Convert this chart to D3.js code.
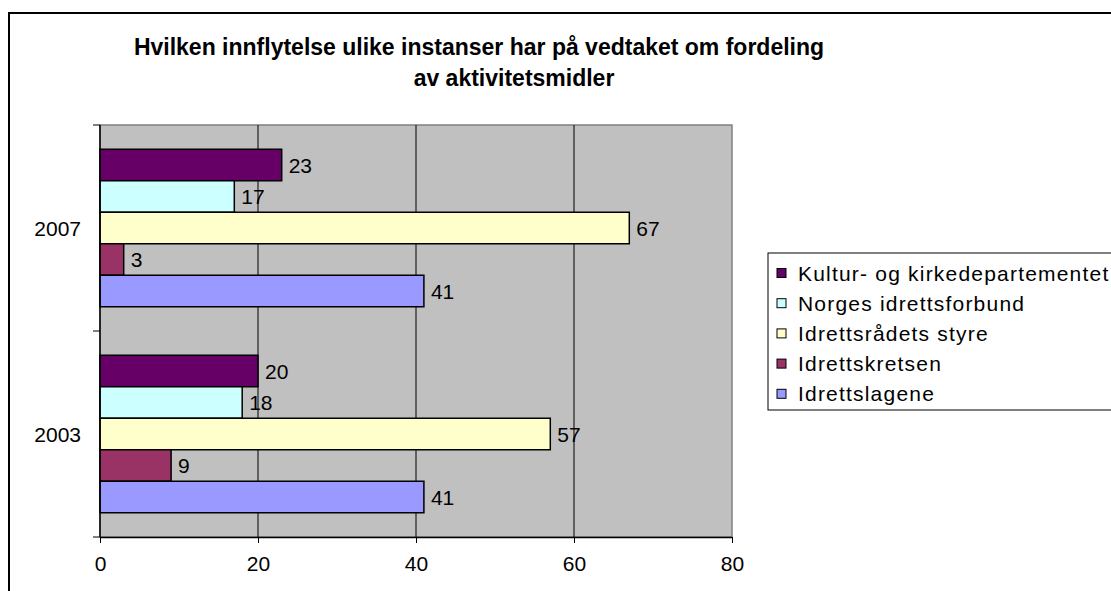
<!DOCTYPE html>
<html>
<head>
<meta charset="utf-8">
<script src="https://cdn.jsdelivr.net/npm/d3@7"></script>
<style>
	body { margin: 0; background: #fff; }
	text { font-family: Arial, "Liberation Sans", sans-serif; fill: #000; }
</style>
</head>
<body>
<div id="chart"></div>
<script>
	var years = ["2007", "2003"];
	var seriesNames = ["Kultur- og kirkedepartementet", "Norges idrettsforbund", "Idrettsrådets styre", "Idrettskretsen", "Idrettslagene"];
	var kultur = [23, 20];
	var norges = [17, 18];
	var styre = [67, 57];
	var kretsen = [3, 9];
	var lagene = [41, 41];
	var xTicks = [0, 20, 40, 60, 80];
	var colors = ["#660066", "#CCFFFF", "#FFFFCC", "#993366", "#9999FF"];

	var seriesValues = [kultur, norges, styre, kretsen, lagene];

	var width = 1111,
		height = 591;

	var svg = d3.select("#chart")
		.append("svg")
		.attr("width", width)
		.attr("height", height);

	// outer chart border (right and bottom are cut off in the picture)
	svg.append("path")
		.attr("d", "M9," + height + "V13H" + width)
		.attr("fill", "none")
		.attr("stroke", "#000")
		.attr("stroke-width", 2);

	// title
	svg.append("text")
		.attr("x", 479).attr("y", 55)
		.attr("text-anchor", "middle")
		.style("font-weight", "bold").style("font-size", "23px")
		.text("Hvilken innflytelse ulike instanser har på vedtaket om fordeling");
	svg.append("text")
		.attr("x", 514).attr("y", 86)
		.attr("text-anchor", "middle")
		.style("font-weight", "bold").style("font-size", "23px")
		.text("av aktivitetsmidler");

	var plot = { left: 100, right: 732, top: 125, bottom: 537 };

	var x = d3.scaleLinear()
		.domain([0, 80])
		.range([plot.left, plot.right]);

	var y = d3.scaleBand()
		.domain(years)
		.range([plot.top, plot.bottom]);

	var y1 = d3.scaleBand()
		.domain(seriesNames)
		.range([0, y.bandwidth()])
		.paddingOuter(0.77);

	var g = svg.append("g");

	// plot background
	g.append("rect")
		.attr("x", plot.left).attr("y", plot.top)
		.attr("width", plot.right - plot.left)
		.attr("height", plot.bottom - plot.top)
		.attr("fill", "#C0C0C0")
		.attr("stroke", "#808080")
		.attr("stroke-width", 1.5);

	// grid lines
	g.selectAll(".grid")
		.data(xTicks.slice(1, -1))
		.enter().append("line")
		.attr("x1", function(d) { return x(d); })
		.attr("x2", function(d) { return x(d); })
		.attr("y1", plot.top).attr("y2", plot.bottom)
		.attr("stroke", "#000")
		.attr("stroke-width", 1);

	// bars
	var data = [];
	years.forEach(function(yr, i) {
		seriesNames.forEach(function(s, j) {
			data.push({ year: yr, series: s, value: seriesValues[j][i], color: colors[j] });
		});
	});

	g.selectAll(".bar")
		.data(data)
		.enter().append("rect")
		.attr("class", "bar")
		.attr("x", x(0))
		.attr("y", function(d) { return y(d.year) + y1(d.series); })
		.attr("width", function(d) { return x(d.value) - x(0); })
		.attr("height", y1.bandwidth())
		.attr("fill", function(d) { return d.color; })
		.attr("stroke", "#000")
		.attr("stroke-width", 1.5);

	g.selectAll(".val")
		.data(data)
		.enter().append("text")
		.attr("x", function(d) { return x(d.value) + 7; })
		.attr("y", function(d) { return y(d.year) + y1(d.series) + y1.bandwidth() / 2; })
		.attr("dy", "0.36em")
		.style("font-size", "21px")
		.text(function(d) { return d.value; });

	// x axis
	var xAxis = d3.axisBottom(x)
		.tickValues(xTicks)
		.tickSize(6)
		.tickPadding(13)
		.tickSizeOuter(0);
	var gx = svg.append("g")
		.attr("transform", "translate(0," + plot.bottom + ")")
		.call(xAxis);
	gx.select(".domain").attr("stroke", "#000").attr("stroke-width", 1.5);
	gx.selectAll("text").style("font-size", "21px").attr("fill", "#000");

	// y axis: ticks at band boundaries
	var gy = svg.append("g")
		.attr("transform", "translate(" + plot.left + ",0)");
	gy.append("line")
		.attr("x1", 0).attr("x2", 0)
		.attr("y1", plot.top).attr("y2", plot.bottom)
		.attr("stroke", "#000").attr("stroke-width", 1.5);
	var bounds = years.map(function(d) { return y(d); }).concat([plot.bottom]);
	gy.selectAll(".ytick")
		.data(bounds)
		.enter().append("line")
		.attr("x1", -7).attr("x2", 0)
		.attr("y1", function(d) { return d; })
		.attr("y2", function(d) { return d; })
		.attr("stroke", "#000");
	gy.selectAll(".ylab")
		.data(years)
		.enter().append("text")
		.attr("x", -19)
		.attr("y", function(d) { return y(d) + y.bandwidth() / 2; })
		.attr("dy", "0.36em")
		.attr("text-anchor", "end")
		.style("font-size", "21px")
		.text(function(d) { return d; });

	// legend
	var legend = svg.append("g");
	legend.append("rect")
		.attr("x", 768).attr("y", 253)
		.attr("width", 360).attr("height", 157)
		.attr("fill", "#fff")
		.attr("stroke", "#000")
		.attr("stroke-width", 1);

	var items = legend.selectAll(".item")
		.data(seriesNames)
		.enter().append("g")
		.attr("transform", function(d, i) { return "translate(777," + (273 + i * 30.2) + ")"; });
	items.append("rect")
		.attr("x", 0).attr("y", -4.5)
		.attr("width", 9).attr("height", 9)
		.attr("fill", function(d, i) { return colors[i]; })
		.attr("stroke", "#000");
	items.append("text")
		.attr("x", 21).attr("dy", "0.36em")
		.style("font-size", "21px")
		.style("letter-spacing", "1.2px")
		.text(function(d) { return d; });
</script>
</body>
</html>
